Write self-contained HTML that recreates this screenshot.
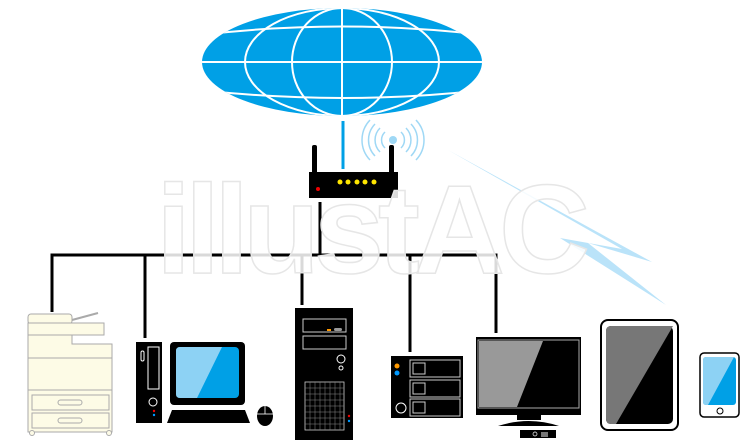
<!DOCTYPE html>
<html><head><meta charset="utf-8"><style>html,body{margin:0;padding:0;background:#fff;}svg{display:block}</style></head><body>
<svg width="750" height="448" viewBox="0 0 750 448" xmlns="http://www.w3.org/2000/svg">
<defs><clipPath id="g"><ellipse cx="342" cy="62" rx="140" ry="54"/></clipPath></defs>
<ellipse cx="342" cy="62" rx="140" ry="54" fill="#00a0e6"/>
<g clip-path="url(#g)" fill="none" stroke="#fff" stroke-width="2">
<line x1="342" y1="0" x2="342" y2="120"/>
<line x1="190" y1="62" x2="500" y2="62"/>
<path d="M200 35 Q342 18 484 35"/>
<path d="M200 90 Q342 106 484 90"/>
<ellipse cx="342" cy="62" rx="50" ry="54"/>
<ellipse cx="342" cy="62" rx="97" ry="54"/>
</g>
<line x1="343" y1="121" x2="343" y2="169" stroke="#00a0e6" stroke-width="3"/>
<g fill="none" stroke="#9fd8f5" stroke-width="1.5">
<path d="M385 132 A11 11 0 0 0 385 148"/><path d="M380 128 A17 17 0 0 0 380 152"/><path d="M375 124 A23 23 0 0 0 375 156"/><path d="M370 120 A29 29 0 0 0 370 160"/>
<path d="M401 132 A11 11 0 0 1 401 148"/><path d="M406 128 A17 17 0 0 1 406 152"/><path d="M411 124 A23 23 0 0 1 411 156"/><path d="M416 120 A29 29 0 0 1 416 160"/>
</g>
<circle cx="393" cy="140" r="4" fill="#9fd8f5"/>
<rect x="312" y="145" width="5" height="30" rx="2" fill="#000"/>
<rect x="389" y="145" width="5" height="30" rx="2" fill="#000"/>
<rect x="309" y="172" width="89" height="26" fill="#000"/>
<g fill="#ffe600"><circle cx="340" cy="182" r="2.5"/><circle cx="348" cy="182" r="2.5"/><circle cx="357" cy="182" r="2.5"/><circle cx="365" cy="182" r="2.5"/><circle cx="374" cy="182" r="2.5"/></g>
<circle cx="318" cy="189" r="2" fill="#e00"/>
<polygon points="448,150 652,262 588,243 666,305 560,238 622,249" fill="#a9dcf7" opacity="0.8"/>
<g stroke="#000" stroke-width="3" fill="none">
<line x1="320" y1="202" x2="320" y2="255"/>
<polyline points="52,312 52,255 496,255 496,333"/>
<line x1="145" y1="255" x2="145" y2="338"/>
<line x1="302" y1="255" x2="302" y2="305"/>
<line x1="410" y1="255" x2="410" y2="352"/>
</g>
<!-- watermark on top -->
<text x="156" y="273" font-family="Liberation Sans, sans-serif" font-weight="bold" font-size="126" fill="#fff" fill-opacity="0.85" stroke="#e6e6e6" stroke-width="1.5" letter-spacing="-6">illustAC</text>
<g fill="#fdfbe6" stroke="#aaa" stroke-width="1">
<line x1="72" y1="320" x2="98" y2="313" stroke-width="2"/>
<rect x="28" y="314" width="44" height="10" rx="3"/>
<rect x="28" y="323" width="76" height="12"/>
<path d="M28 335 H72 V344 H112 V432 H28 Z"/>
<line x1="28" y1="358" x2="112" y2="358"/>
<line x1="28" y1="390" x2="112" y2="390"/>
<rect x="32" y="395" width="77" height="15"/>
<rect x="32" y="413" width="77" height="15"/>
<rect x="58" y="400" width="24" height="5" rx="2.5"/>
<rect x="58" y="418" width="24" height="5" rx="2.5"/>
<circle cx="32" cy="433" r="2.5"/><circle cx="109" cy="433" r="2.5"/>
</g>
<rect x="136" y="342" width="26" height="81" fill="#000"/>
<rect x="148" y="347" width="11" height="42" fill="none" stroke="#fff" stroke-width="1"/>
<rect x="141" y="351" width="3" height="10" rx="1.5" fill="none" stroke="#fff"/>
<circle cx="153" cy="402" r="4" fill="none" stroke="#fff"/>
<circle cx="154" cy="411" r="1.2" fill="#e00"/><circle cx="154" cy="415" r="1.2" fill="#09f"/>
<rect x="170" y="342" width="75" height="63" rx="4" fill="#000"/>
<rect x="176" y="347" width="63" height="51" rx="4" fill="#00a0e6"/>
<path d="M180 347 H222 L197 398 H180 Q176 398 176 394 V351 Q176 347 180 347Z" fill="#8dd2f4"/>
<polygon points="172,410 245,410 250,423 167,423" fill="#000"/>
<ellipse cx="265" cy="416" rx="8" ry="10" fill="#000"/>
<line x1="257" y1="414" x2="273" y2="414" stroke="#fff" stroke-width="0.8"/><line x1="265" y1="406" x2="265" y2="414" stroke="#fff" stroke-width="0.8"/>
<rect x="295" y="308" width="58" height="132" fill="#000"/>
<rect x="303" y="319" width="43" height="13" fill="none" stroke="#ccc"/>
<rect x="303" y="336" width="43" height="13" fill="none" stroke="#ccc"/>
<rect x="327" y="329" width="4" height="2" fill="#f90"/><rect x="334" y="328" width="8" height="3" rx="1.5" fill="#999"/>
<circle cx="341" cy="359" r="4" fill="none" stroke="#fff"/><circle cx="341" cy="368" r="2" fill="none" stroke="#fff"/>
<rect x="305" y="382" width="39" height="48" fill="none" stroke="#ccc" stroke-width="0.8"/>
<g stroke="#888" stroke-width="0.5">
<line x1="305" y1="388" x2="344" y2="388"/><line x1="305" y1="394" x2="344" y2="394"/><line x1="305" y1="400" x2="344" y2="400"/><line x1="305" y1="406" x2="344" y2="406"/><line x1="305" y1="412" x2="344" y2="412"/><line x1="305" y1="418" x2="344" y2="418"/><line x1="305" y1="424" x2="344" y2="424"/>
<line x1="310" y1="382" x2="310" y2="430"/><line x1="315" y1="382" x2="315" y2="430"/><line x1="320" y1="382" x2="320" y2="430"/><line x1="325" y1="382" x2="325" y2="430"/><line x1="330" y1="382" x2="330" y2="430"/><line x1="335" y1="382" x2="335" y2="430"/><line x1="340" y1="382" x2="340" y2="430"/>
</g>
<circle cx="349" cy="416" r="1.2" fill="#e00"/><circle cx="349" cy="421" r="1.2" fill="#09f"/>
<rect x="391" y="356" width="72" height="62" fill="#000"/>
<g fill="none" stroke="#ccc"><rect x="410" y="360" width="50" height="17"/><rect x="410" y="380" width="50" height="17"/><rect x="410" y="399" width="50" height="17"/>
<rect x="413" y="363" width="12" height="11"/><rect x="413" y="383" width="12" height="11"/><rect x="413" y="402" width="12" height="11"/>
<circle cx="401" cy="408" r="5" stroke="#fff"/></g>
<circle cx="397" cy="366" r="2.5" fill="#f90"/><circle cx="397" cy="373" r="2.5" fill="#09f"/>
<rect x="476" y="337" width="105" height="78" fill="#000"/>
<rect x="478" y="340" width="101" height="68" fill="#000" stroke="#aaa"/>
<polygon points="479,341 543,341 517,407 479,407" fill="#999"/>
<rect x="517" y="415" width="24" height="5" fill="#000"/>
<path d="M498 426 Q529 416 559 426 Z" fill="#000"/>
<rect x="520" y="430" width="36" height="8" fill="#000"/>
<circle cx="535" cy="434" r="2" fill="none" stroke="#fff" stroke-width="0.7"/>
<rect x="541" y="432" width="7" height="5" fill="#777"/>
<rect x="601" y="320" width="77" height="110" rx="7" fill="#fff" stroke="#000" stroke-width="2"/>
<rect x="606" y="326" width="67" height="98" rx="5" fill="#000"/>
<path d="M611 326 H673 L616 424 H611 Q606 424 606 419 V331 Q606 326 611 326Z" fill="#777"/>
<rect x="700" y="353" width="39" height="64" rx="4" fill="#fff" stroke="#000" stroke-width="1.5"/>
<rect x="703" y="357" width="33" height="48" rx="3" fill="#00a0e6"/>
<path d="M706 357 H734 L708 405 H706 Q703 405 703 402 V360 Q703 357 706 357Z" fill="#8dd2f4"/>
<circle cx="720" cy="411" r="3" fill="none" stroke="#000" stroke-width="1"/>
</svg>
</body></html>
